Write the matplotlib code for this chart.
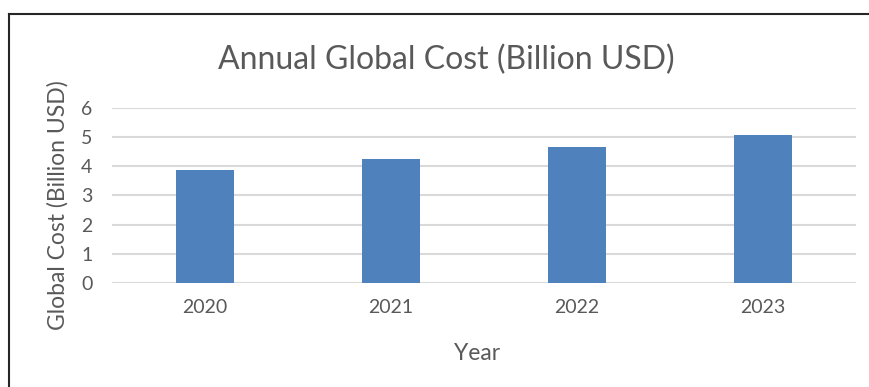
import matplotlib.pyplot as plt
from matplotlib.lines import Line2D

years = ["2020", "2021", "2022", "2023"]
cost = [3.87, 4.24, 4.66, 5.08]
yticks = [0, 1, 2, 3, 4, 5, 6]

plt.rcParams['font.family'] = ['Lato', 'DejaVu Sans']
txt = '#595959'
W, H = 870, 387

fig = plt.figure(figsize=(8.7, 3.87), dpi=100)
ax = fig.add_axes([0.1287, 0.2695, 0.8552, 0.4509])

x = range(len(years))
ax.bar(x, cost, width=0.31, color='#4f81bd', zorder=3)

ax.set_xlim(-0.5, len(years) - 0.5)
ax.set_ylim(0, 6)
ax.set_yticks(yticks)
ax.set_xticks(list(x))
ax.set_xticklabels(years)
ax.grid(axis='y', color='#d9d9d9', linewidth=1.5, zorder=0)
for s in ax.spines.values():
    s.set_visible(False)
ax.tick_params(length=0, labelsize=14, labelcolor=txt, pad=14)
ax.tick_params(axis='x', pad=12)

# axis titles and chart title placed in figure pixels
fig.text(477 / W, 1 - 354 / H, 'Year', ha='center', va='center',
         fontsize=16.5, color=txt)
fig.text(57.5 / W, 1 - 205 / H, 'Global Cost (Billion USD)', ha='center', va='center',
         rotation=90, fontsize=16.5, color=txt)
fig.text(446 / W, 1 - 60 / H, 'Annual Global Cost (Billion USD)', ha='center', va='center',
         fontsize=23, color=txt)

# outer chart frame (only top and left edges are in view)
fig.add_artist(Line2D([9 / W, 9 / W], [0, 1 - 14 / H], color='#262626', lw=1.5))
fig.add_artist(Line2D([9 / W, 1], [1 - 14 / H, 1 - 14 / H], color='#262626', lw=1.5))

fig.savefig('out.png', dpi=100)
